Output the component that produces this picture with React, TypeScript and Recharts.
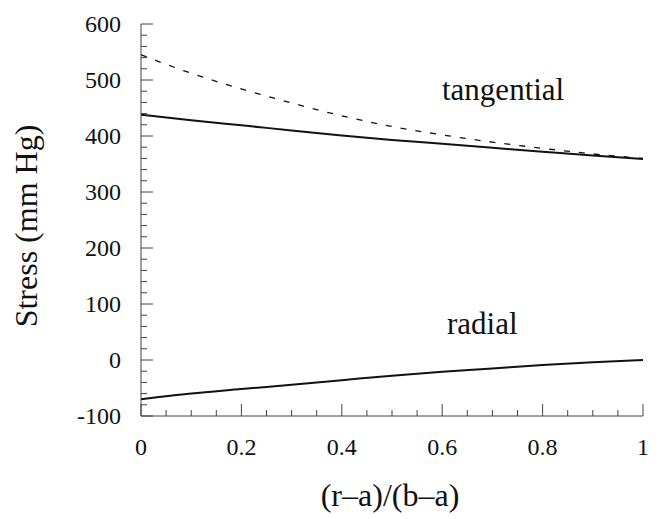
import React from "react";
import { LineChart, Line, XAxis, YAxis, Customized } from "recharts";

// position along the wall, (r-a)/(b-a)
const positions = [0, 0.1, 0.2, 0.3, 0.4, 0.5, 0.6, 0.7, 0.8, 0.9, 1];
// stresses in mm Hg
const tangential = [438, 428, 419, 410, 401, 393, 386, 379, 372, 365, 359];
const tangentialDashed = [545, 512, 484, 459, 436, 417, 402, 389, 378, 368, 360];
const radial = [-70, -60, -52, -44, -36, -28, -21, -15, -9, -4, 0];

const xTicks = [
  0, 0.05, 0.1, 0.15, 0.2, 0.25, 0.3, 0.35, 0.4, 0.45, 0.5, 0.55, 0.6, 0.65, 0.7, 0.75, 0.8, 0.85, 0.9,
  0.95, 1,
];
const yTicks = [
  -100, -80, -60, -40, -20, 0, 20, 40, 60, 80, 100, 120, 140, 160, 180, 200, 220, 240, 260, 280, 300,
  320, 340, 360, 380, 400, 420, 440, 460, 480, 500, 520, 540, 560, 580, 600,
];

const FONT = "'Liberation Serif', 'Times New Roman', serif";
const INK = "#111";
const AXIS = "#444";

const data = positions.map((p, i) => ({
  p,
  tangential: tangential[i],
  dashed: tangentialDashed[i],
  radial: radial[i],
}));

const XTick = (props: any) => {
  const { x, y, payload } = props;
  const v = payload.value as number;
  const major = Math.round(v * 100) % 20 === 0;
  return (
    <g>
      <line x1={x} x2={x} y1={y} y2={y - (major ? 12 : 6)} stroke={AXIS} strokeWidth={1} />
      {major && (
        <text x={x} y={y + 31} textAnchor="middle" dy="0.35em" fontSize={24} fontFamily={FONT} fill={INK}>
          {String(v)}
        </text>
      )}
    </g>
  );
};

const YTick = (props: any) => {
  const { x, y, payload } = props;
  const v = payload.value as number;
  const major = v % 100 === 0;
  return (
    <g>
      <line x1={x} x2={x + (major ? 12 : 6)} y1={y} y2={y} stroke={AXIS} strokeWidth={1} />
      {major && (
        <text x={x - 20} y={y} textAnchor="end" dy="0.35em" fontSize={24} fontFamily={FONT} fill={INK}>
          {String(v)}
        </text>
      )}
    </g>
  );
};

const Texts = () => (
  <g fontFamily={FONT} fill={INK}>
    <text x={442} y={100} fontSize={31}>
      tangential
    </text>
    <text x={447} y={334} fontSize={31}>
      radial
    </text>
    <text x={390} y={506} fontSize={32} textAnchor="middle">
      (r–a)/(b–a)
    </text>
    <text x={37} y={226} fontSize={32} textAnchor="middle" transform="rotate(-90, 37, 226)">
      Stress (mm Hg)
    </text>
  </g>
);

export default function App() {
  return (
    <div style={{ width: 659, height: 519, background: "#fff" }}>
      <style>{"body{margin:0}"}</style>
      <LineChart width={659} height={519} data={data} margin={{ top: 24, right: 16, bottom: 0, left: 0 }}>
        <XAxis
          dataKey="p"
          type="number"
          domain={[0, 1]}
          ticks={xTicks}
          interval={0}
          height={103}
          tickSize={0}
          tickMargin={0}
          tickLine={false}
          tick={<XTick />}
          axisLine={{ stroke: AXIS, strokeWidth: 1 }}
        />
        <YAxis
          type="number"
          domain={[-100, 600]}
          ticks={yTicks}
          interval={0}
          width={141}
          tickSize={0}
          tickMargin={0}
          tickLine={false}
          tick={<YTick />}
          axisLine={{ stroke: AXIS, strokeWidth: 1 }}
        />
        <Line
          type="monotone"
          dataKey="dashed"
          stroke={INK}
          strokeWidth={1.3}
          strokeDasharray="6 9"
          dot={false}
          isAnimationActive={false}
        />
        <Line type="monotone" dataKey="tangential" stroke={INK} strokeWidth={2} dot={false} isAnimationActive={false} />
        <Line type="monotone" dataKey="radial" stroke={INK} strokeWidth={2} dot={false} isAnimationActive={false} />
        <Customized component={Texts} />
      </LineChart>
    </div>
  );
}
